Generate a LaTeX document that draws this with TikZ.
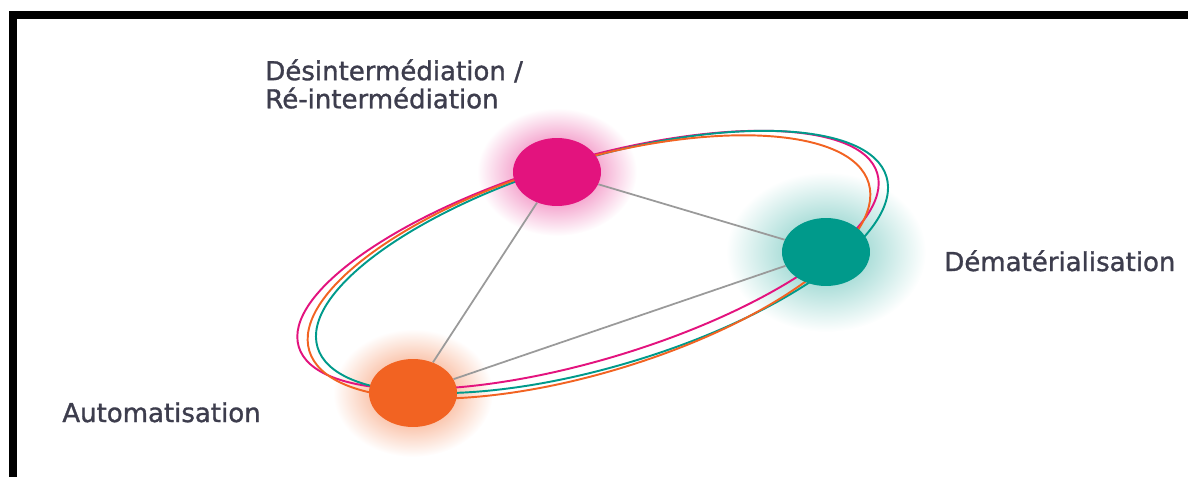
\documentclass[tikz,border=0pt]{standalone}
\usepackage{fontspec}
\setmainfont{DejaVu Sans}[FakeBold=1.2]
\usetikzlibrary{shapes.geometric,backgrounds}

\definecolor{pinkhub}{HTML}{E3137E}
\definecolor{tealhub}{HTML}{009A8B}
\definecolor{orangehub}{HTML}{F26322}
\definecolor{labelgray}{HTML}{3D3D4D}
\definecolor{linkgray}{HTML}{9A9A9A}

\begin{document}
\begin{tikzpicture}[x=0.02cm,y=-0.02cm,
    hub/.style={ellipse,draw=none,inner sep=0pt,minimum width=1.76cm,minimum height=1.36cm},
    link/.style={draw=linkgray,line width=1pt},
    ring/.style={line width=1.1pt},
    tag/.style={text=labelgray,inner sep=0pt,font=\fontsize{14.8pt}{16pt}\selectfont}]
        \useasboundingbox (0,0) rectangle (1188,477);
        \fill[black] (9,11) rectangle (1188,19);
        \fill[black] (9,11) rectangle (17,477);

        \node[hub,fill=pinkhub] (desint) at (557,172) {};
        \node[hub,fill=tealhub] (demat) at (826,252) {};
        \node[hub,fill=orangehub] (auto) at (413,393) {};

        \begin{scope}[on background layer]
            \shade[inner color=pinkhub!75,outer color=white] (desint.center) ellipse [x radius=80,y radius=64];
            \shade[inner color=tealhub!55,outer color=white] (demat.center) ellipse [x radius=100,y radius=80];
            \shade[inner color=orangehub!75,outer color=white] (auto.center) ellipse [x radius=80,y radius=64];

            \draw[link] (desint) -- (demat);
            \draw[link] (desint) -- (auto);
            \draw[link] (auto) -- (demat);

            \draw[ring,draw=pinkhub,rotate around={16.7:(588,260)}] (588,260) ellipse [x radius=302,y radius=100];
            \draw[ring,draw=tealhub,rotate around={16.7:(602,262)}] (602,262) ellipse [x radius=297,y radius=104];
            \draw[ring,draw=orangehub,rotate around={16.7:(589,267)}] (589,267) ellipse [x radius=292,y radius=106];
        \end{scope}

        \node[tag,anchor=north west,align=left] (lblDesint) at (265,59) {Désintermédiation /\\Ré-intermédiation};
        \node[tag,anchor=base west] (lblDemat) at (944,271) {Dématérialisation};
        \node[tag,anchor=base west] (lblAuto) at (62,422) {Automatisation};
\end{tikzpicture}
\end{document}
